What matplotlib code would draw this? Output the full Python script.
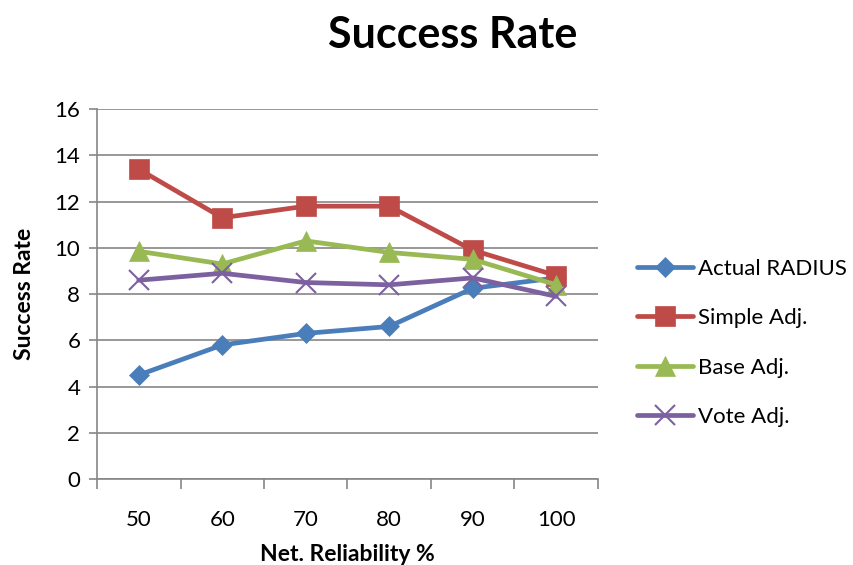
import matplotlib
matplotlib.use("Agg")
import matplotlib.pyplot as plt

plt.rcParams["font.family"] = ["Lato", "DejaVu Sans"]

# Success rate per network reliability level
RELIABILITY = ["50", "60", "70", "80", "90", "100"]
ACTUAL_RADIUS = [4.5, 5.8, 6.3, 6.6, 8.25, 8.7]
SIMPLE_ADJ = [13.4, 11.3, 11.8, 11.8, 9.9, 8.8]
BASE_ADJ = [9.85, 9.3, 10.3, 9.8, 9.5, 8.4]
VOTE_ADJ = [8.6, 8.9, 8.5, 8.4, 8.7, 7.9]

SERIES = [
    ("Actual RADIUS", ACTUAL_RADIUS, "#4A7EBB", "D", 10),
    ("Simple Adj.", SIMPLE_ADJ, "#BE4B48", "s", 14),
    ("Base Adj.", BASE_ADJ, "#98B954", "^", 14),
    ("Vote Adj.", VOTE_ADJ, "#7D60A0", "x", 14),
]

GRID = "#868686"

fig = plt.figure(figsize=(8.54, 5.65), dpi=100)
ax = fig.add_axes([0.1136, 0.152, 0.5866, 0.655])

x = list(range(len(RELIABILITY)))
for name, vals, color, marker, ms in SERIES:
    ax.plot(x, vals, color=color, lw=3.4, marker=marker, ms=ms,
            mew=1.5 if marker == "x" else 0.5, mec=color, mfc=color,
            label=name, solid_capstyle="round")

ax.set_xlim(-0.5, len(RELIABILITY) - 0.5)
ax.set_ylim(0, 16)
ax.set_yticks(range(0, 17, 2))
ax.yaxis.grid(True, color=GRID, lw=1.2)
ax.set_axisbelow(True)

# category labels centred, tick marks on the boundaries
ax.set_xticks([i - 0.5 for i in range(len(RELIABILITY) + 1)], minor=False)
ax.set_xticklabels([])
ax.set_xticks(x, minor=True)
ax.set_xticklabels(RELIABILITY, minor=True)
ax.tick_params(axis="x", which="major", length=7, width=1.2, color=GRID,
               direction="out")
ax.tick_params(axis="x", which="minor", length=0, labelsize=16, pad=22)
ax.tick_params(axis="y", length=6, width=1.2, color=GRID, labelsize=16, pad=6)

for side in ("top", "right"):
    ax.spines[side].set_visible(False)
for side in ("left", "bottom"):
    ax.spines[side].set_color(GRID)
    ax.spines[side].set_linewidth(1.2)

ax.set_xlabel("Net. Reliability %", fontsize=16.5, fontweight="bold", labelpad=10)
ax.set_ylabel("Success Rate", fontsize=16.5, fontweight="bold", labelpad=14)
fig.text(0.53, 0.938, "Success Rate", ha="center", va="center",
         fontsize=31, fontweight="bold")

ax.legend(loc="center left", bbox_to_anchor=(1.078, 0.368), frameon=False,
          fontsize=16, handlelength=2.5, handletextpad=0.25, labelspacing=1.32,
          borderaxespad=0, borderpad=0)

fig.savefig("out.png", dpi=100)
